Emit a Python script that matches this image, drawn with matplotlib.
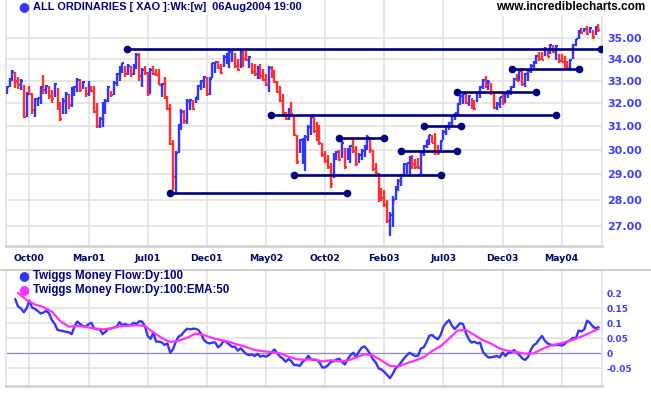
import numpy as np
import matplotlib.pyplot as plt

plt.rcParams['font.family'] = ['Liberation Sans', 'DejaVu Sans']
plt.rcParams['font.weight'] = 'bold'

# weekly bars, ALL ORDINARIES (index / 100)
high = [32.75, 33.13, 33.48, 33.40, 33.17, 33.08, 32.80, 32.50, 32.76, 32.45,
        32.24, 32.24, 32.74, 33.24, 32.80, 32.76, 32.58, 32.90, 32.65, 32.06,
        32.24, 32.50, 32.40, 32.70, 32.74, 33.13, 33.08, 33.00, 32.70, 32.97,
        32.76, 32.76, 31.98, 31.40, 32.06, 32.20, 32.74, 32.53, 32.97, 33.35,
        33.68, 33.84, 33.68, 33.76, 33.68, 33.79, 34.30, 34.30, 33.60, 33.70,
        33.38, 33.60, 33.68, 33.52, 33.52, 32.90, 33.17, 32.30, 31.96, 30.42,
        29.95, 31.10, 31.73, 31.70, 32.16, 32.16, 32.14, 32.29, 32.82, 33.05,
        33.21, 33.17, 33.17, 33.84, 33.87, 33.92, 33.76, 34.18, 34.30, 34.38,
        34.48, 34.30, 34.00, 34.48, 34.38, 34.40, 34.15, 33.84, 33.76, 33.68,
        33.76, 33.52, 33.29, 33.68, 33.68, 33.49, 32.97, 32.74, 32.41, 31.62,
        31.77, 32.06, 31.48, 30.62, 30.45, 30.49, 30.62, 31.04, 31.48, 31.38,
        31.18, 31.04, 30.28, 29.93, 29.80, 29.47, 29.87, 29.93, 30.00, 30.35,
        30.07, 30.07, 30.21, 30.49, 30.14, 29.87, 30.03, 30.20, 30.63, 30.53,
        30.00, 29.47, 29.07, 28.47, 28.40, 28.00, 27.55, 28.13, 28.53, 28.80,
        29.00, 29.47, 29.47, 29.73, 29.80, 29.64, 29.67, 29.93, 30.20, 30.42,
        30.63, 30.63, 30.70, 30.20, 30.42, 30.83, 31.04, 31.18, 31.48, 31.58,
        31.99, 32.36, 32.48, 32.48, 32.36, 32.24, 32.14, 32.51, 32.74, 33.09,
        33.20, 33.03, 32.89, 32.44, 32.03, 32.29, 32.48, 32.48, 32.59, 32.74,
        33.13, 33.29, 33.52, 33.60, 33.37, 33.52, 33.76, 33.92, 34.20, 34.35,
        34.33, 34.56, 34.38, 34.71, 34.65, 34.68, 34.26, 34.23, 34.15, 33.92,
        34.00, 34.71, 34.98, 35.40, 35.47, 35.50, 35.60, 35.55, 35.40, 35.60,
        35.68]
low = [32.40, 32.70, 32.97, 32.67, 32.62, 32.60, 31.33, 31.40, 32.35, 31.50,
       31.38, 31.87, 31.96, 32.42, 32.40, 32.16, 32.01, 32.25, 31.70, 31.23,
       31.50, 31.53, 31.73, 31.82, 32.30, 32.50, 32.50, 32.62, 32.28, 32.30,
       32.50, 31.56, 30.90, 30.90, 30.97, 31.50, 32.06, 32.28, 32.35, 32.74,
       32.97, 33.35, 33.17, 33.27, 33.17, 33.27, 33.52, 32.97, 32.70, 33.27,
       32.30, 32.40, 33.24, 33.20, 32.80, 32.29, 32.20, 31.70, 30.21, 28.40,
       28.25, 29.87, 30.83, 31.10, 31.08, 31.70, 31.68, 31.98, 32.14, 32.59,
       32.67, 32.33, 32.36, 33.13, 33.37, 33.55, 33.29, 33.65, 33.76, 33.60,
       33.87, 33.60, 33.45, 33.60, 33.65, 33.92, 33.60, 33.29, 33.21, 33.08,
       33.08, 32.97, 32.74, 32.47, 33.13, 32.90, 32.44, 32.06, 31.48, 31.26,
       31.26, 31.41, 30.56, 29.40, 29.87, 29.40, 29.13, 30.35, 30.63, 30.70,
       30.35, 30.20, 29.72, 29.47, 29.20, 28.47, 28.87, 29.60, 29.53, 29.67,
       29.20, 29.60, 29.47, 29.87, 29.33, 29.47, 29.60, 29.72, 30.00, 29.87,
       29.13, 29.00, 27.93, 27.95, 27.73, 27.10, 26.65, 26.97, 28.00, 28.33,
       28.53, 28.93, 29.00, 29.00, 29.20, 29.20, 29.20, 28.96, 29.73, 30.07,
       30.20, 30.28, 29.80, 29.80, 29.93, 30.42, 30.63, 30.83, 30.97, 31.26,
       31.48, 31.90, 31.94, 31.94, 31.88, 31.73, 31.68, 32.03, 32.21, 32.63,
       32.66, 32.59, 32.36, 31.73, 31.68, 31.76, 31.90, 31.98, 32.21, 32.36,
       32.66, 32.97, 32.97, 32.74, 32.70, 33.00, 33.37, 33.52, 33.76, 33.92,
       33.95, 34.15, 34.08, 34.23, 34.30, 33.95, 33.84, 33.85, 33.60, 33.52,
       33.52, 34.00, 34.60, 34.98, 35.21, 35.30, 35.14, 35.23, 34.98, 35.14,
       35.32]
close = [32.70, 33.05, 33.40, 33.00, 32.80, 33.00, 31.40, 32.40, 32.38, 31.70,
         32.20, 32.23, 32.70, 32.60, 32.75, 32.30, 32.20, 32.85, 31.80, 31.30,
         32.10, 32.40, 31.90, 32.60, 32.70, 33.05, 32.60, 32.95, 32.40, 32.90,
         32.55, 31.60, 31.00, 31.30, 31.90, 32.10, 32.70, 32.35, 32.90, 33.30,
         33.60, 33.80, 33.30, 33.70, 33.30, 33.70, 34.20, 33.20, 33.50, 33.35,
         32.40, 33.50, 33.30, 33.25, 32.82, 32.85, 32.25, 31.75, 30.25, 28.90,
         29.85, 31.00, 31.60, 31.20, 32.10, 32.14, 31.75, 32.25, 32.75, 33.00,
         33.15, 32.40, 33.10, 33.80, 33.85, 33.60, 33.35, 34.10, 34.25, 34.32,
         34.45, 33.70, 33.50, 34.40, 34.00, 33.95, 34.10, 33.40, 33.30, 33.60,
         33.20, 33.05, 32.80, 33.60, 33.20, 32.95, 32.50, 32.10, 31.55, 31.30,
         31.70, 31.50, 30.60, 29.50, 30.40, 30.45, 30.55, 30.95, 31.40, 30.80,
         30.50, 30.30, 29.80, 29.55, 29.30, 28.60, 29.80, 29.90, 29.60, 30.30,
         29.30, 30.00, 30.15, 29.95, 29.40, 29.80, 29.95, 30.15, 30.55, 30.00,
         29.20, 29.05, 28.10, 28.05, 27.80, 27.20, 27.40, 28.00, 28.45, 28.75,
         28.95, 29.40, 29.45, 29.65, 29.40, 29.30, 29.25, 29.85, 30.15, 30.40,
         30.60, 30.30, 29.90, 29.85, 30.35, 30.75, 31.00, 31.15, 31.45, 31.55,
         31.95, 32.30, 32.40, 32.00, 32.30, 31.80, 31.75, 32.45, 32.70, 33.05,
         32.80, 32.95, 32.50, 31.80, 31.95, 32.25, 32.00, 32.40, 32.55, 32.70,
         33.10, 33.00, 33.45, 32.85, 33.30, 33.45, 33.70, 33.88, 34.15, 34.00,
         33.97, 34.50, 34.10, 34.65, 34.35, 34.60, 33.90, 33.87, 33.70, 33.60,
         33.95, 34.65, 34.95, 35.35, 35.25, 35.45, 35.20, 35.50, 35.05, 35.55,
         35.40]

# support / resistance lines: level, first week, last week
line_level = [34.48, 28.25, 31.48, 28.97, 30.50, 29.97, 31.00, 32.48, 33.52]
line_start = [42.7, 57.9, 93.8, 101.9, 117.9, 139.8, 148.1, 159.9, 179.2]
line_end = [210.8, 120.8, 194.9, 154.1, 134.0, 159.7, 161.1, 187.7, 203.0]

# Twiggs Money Flow (100), one reading per week
nan = np.nan
money_flow = [nan, nan, nan, 0.180, 0.156, 0.150, 0.137, 0.150, 0.176, 0.152,
              0.148, 0.141, 0.133, 0.136, 0.142, 0.133, 0.111, 0.098, 0.078, 0.076,
              0.074, 0.072, 0.070, 0.064, 0.089, 0.106, 0.098, 0.091, 0.089, 0.097,
              0.102, 0.083, 0.080, 0.081, 0.064, 0.072, 0.081, 0.083, 0.086, 0.089,
              0.104, 0.094, 0.098, 0.094, 0.094, 0.102, 0.098, 0.107, 0.106, 0.091,
              0.058, 0.048, 0.069, 0.039, 0.039, 0.036, 0.028, 0.033, 0.002, 0.014,
              0.039, 0.056, 0.061, 0.073, 0.082, 0.080, 0.082, 0.082, 0.078, 0.064,
              0.044, 0.036, 0.033, 0.036, 0.036, 0.020, 0.028, 0.042, 0.037, 0.029,
              0.022, 0.022, 0.009, 0.017, 0.007, -0.002, -0.006, -0.004, -0.009, -0.002,
              -0.011, -0.008, -0.011, -0.006, 0.003, 0.013, 0.000, -0.011, -0.018, -0.028,
              -0.019, -0.026, -0.039, -0.039, -0.042, -0.028, -0.022, -0.008, -0.020, -0.022,
              -0.022, -0.030, -0.047, -0.047, -0.040, -0.028, -0.027, -0.021, -0.018, -0.028,
              -0.037, -0.020, -0.006, 0.002, -0.013, 0.006, 0.019, 0.023, 0.012, -0.003,
              -0.020, -0.031, -0.050, -0.054, -0.062, -0.072, -0.083, -0.069, -0.050, -0.042,
              -0.030, -0.017, -0.007, 0.002, -0.004, -0.009, -0.008, 0.016, 0.020, 0.037,
              0.059, 0.061, 0.053, 0.047, 0.061, 0.089, 0.102, 0.111, 0.093, 0.081,
              0.091, 0.101, 0.097, 0.067, 0.047, 0.036, 0.039, 0.033, 0.036, 0.006,
              -0.006, -0.014, -0.013, -0.011, -0.009, -0.014, 0.003, -0.009, 0.002, 0.002,
              0.011, 0.003, -0.006, -0.017, -0.022, -0.013, 0.011, 0.027, 0.033, 0.047,
              0.058, 0.042, 0.033, 0.029, 0.027, 0.028, 0.028, 0.026, 0.031, 0.039,
              0.044, 0.052, 0.050, 0.076, 0.073, 0.080, 0.109, 0.102, 0.090, 0.083,
              0.087]

# EMA(50) of the money flow, read every third week
ema_week = list(range(4, 209, 3)) + [210]
ema_value = [0.201, 0.178, 0.163, 0.154, 0.139, 0.107, 0.089, 0.091, 0.088, 0.083,
             0.080, 0.083, 0.090, 0.092, 0.094, 0.091, 0.070, 0.051, 0.038, 0.042,
             0.052, 0.066, 0.061, 0.051, 0.044, 0.038, 0.029, 0.021, 0.011, 0.007,
             0.004, 0.000, -0.011, -0.020, -0.021, -0.020, -0.027, -0.023, -0.027, -0.024,
             -0.014, -0.003, -0.007, -0.024, -0.042, -0.044, -0.033, -0.024, -0.013, 0.008,
             0.024, 0.049, 0.076, 0.078, 0.061, 0.044, 0.032, 0.016, 0.008, 0.004,
             -0.001, 0.000, 0.014, 0.026, 0.032, 0.039, 0.049, 0.060, 0.073, 0.081]

tick_week = [8, 29, 50, 71, 92, 113, 134, 155, 176, 197]
tick_label = ['Oct00', 'Mar01', 'Jul01', 'Dec01', 'May02', 'Oct02', 'Feb03',
              'Jul03', 'Dec03', 'May04']
price_ticks = [27, 28, 29, 30, 31, 32, 33, 34, 35]
mf_ticks = [-0.05, 0, 0.05, 0.1, 0.15, 0.2]
mf_tick_label = ['-0.05', '0', '0.05', '0.1', '0.15', '0.2']

BLUE = '#3434ff'
RED = '#ff3030'
NAVY = '#000080'
GRID = '#e2e2e2'
LABEL = '#3e3eff'
TICKFONT = 'DejaVu Sans'

W, H = 651, 395
fig = plt.figure(figsize=(W / 100, H / 100), dpi=100)


def box(l, t, r, b):
    return [l / W, 1 - b / H, (r - l) / W, (b - t) / H]


ax = fig.add_axes(box(6, 0, 602, 246))
ax2 = fig.add_axes(box(6, 270, 602, 386))

weeks = np.arange(len(close))
close_a = np.array(close)
up = np.r_[True, close_a[1:] >= close_a[:-1]]
cols = [BLUE if u else RED for u in up]

ax.vlines(weeks, low, high, colors=cols, lw=1.7, zorder=3)
ax.hlines(close, weeks, weeks + 0.7, colors=cols, lw=1.6, zorder=3)
for lvl, s, e in zip(line_level, line_start, line_end):
    ax.plot([s, e], [lvl, lvl], color=NAVY, lw=1.9, marker='o', ms=4.5, zorder=4)

ax.set_yscale('log')
ax.set_ylim(26.27, 36.89)
ax.set_xlim(-0.3, 211.3)
ax.yaxis.set_major_locator(plt.FixedLocator(price_ticks))
ax.yaxis.set_minor_locator(plt.NullLocator())
ax.yaxis.set_major_formatter(plt.FuncFormatter(lambda v, p: f'{v:.2f}'))
ax.set_xticks(tick_week)
ax.set_xticklabels(tick_label)
ax.yaxis.tick_right()
ax.tick_params(axis='y', length=0, pad=3.5, labelcolor=LABEL, labelsize=7.9)
ax.tick_params(axis='x', length=0, pad=6, labelcolor='#000066', labelsize=6.7)
for lbl in ax.get_xticklabels() + ax.get_yticklabels():
    lbl.set_family(TICKFONT)
ax.grid(color=GRID, lw=1.2)
ax.set_axisbelow(True)
ax.spines['top'].set_visible(False)
for s in ['left', 'right']:
    ax.spines[s].set_color(GRID)
    ax.spines[s].set_linewidth(1.2)
ax.spines['bottom'].set_color('#d4d4d4')
ax.spines['bottom'].set_linewidth(2)

# money flow panel
ax2.plot(weeks, money_flow, color=BLUE, lw=1.7, zorder=3)
ax2.plot(ema_week, ema_value, color='#ff30ff', lw=1.6, zorder=4)
ax2.axhline(0, color='#9090c8', lw=1, zorder=2)
for lvl in [-0.05, 0.05, 0.1, 0.15]:
    ax2.axhline(lvl, color=GRID, lw=1.2, zorder=1)
ax2.set_xticks(tick_week)
ax2.set_xticklabels([])
ax2.grid(axis='x', color=GRID, lw=1.2)
ax2.set_axisbelow(True)
ax2.set_xlim(-0.3, 211.3)
ax2.set_ylim(-0.109, 0.278)
ax2.set_yticks(mf_ticks)
ax2.set_yticklabels(mf_tick_label)
ax2.yaxis.tick_right()
ax2.tick_params(axis='y', length=0, pad=3.5, labelcolor=LABEL, labelsize=6.5)
ax2.tick_params(axis='x', length=0)
for lbl in ax2.get_yticklabels():
    lbl.set_family(TICKFONT)
for s in ['left', 'right', 'top']:
    ax2.spines[s].set_color(GRID)
    ax2.spines[s].set_linewidth(1.2)
ax2.spines['bottom'].set_color('#d4d4d4')
ax2.spines['bottom'].set_linewidth(2)

fig.add_artist(plt.Line2D([0, 1], [1 - 269.5 / H] * 2, color='#c8c8c8', lw=1.2))

# titles and legend
white = dict(facecolor='white', edgecolor='none', pad=2)
fig.text(24 / W, 1 - 7 / H, '\u25cf', color=BLUE, ha='center', va='center',
         fontsize=9, family='DejaVu Sans')
fig.text(33 / W, 1 - 7 / H, 'ALL ORDINARIES [ XAO ]:Wk:[w]  06Aug2004 19:00',
         color=NAVY, ha='left', va='center', fontsize=7.9, bbox=white)
fig.text(645 / W, 1 - 7.5 / H, 'www.incrediblecharts.com', color='black',
         ha='right', va='center', fontsize=8.5, bbox=white)
fig.text(24 / W, 1 - 275.5 / H, '\u25cf', color=BLUE, ha='center', va='center',
         fontsize=9, family='DejaVu Sans')
fig.text(33 / W, 1 - 275.5 / H, 'Twiggs Money Flow:Dy:100', color=NAVY,
         ha='left', va='center', fontsize=8.3)
fig.text(24 / W, 1 - 290 / H, '\u25cf', color='#ff30ff', ha='center', va='center',
         fontsize=9, family='DejaVu Sans')
fig.text(33 / W, 1 - 290 / H, 'Twiggs Money Flow:Dy:100:EMA:50', color=NAVY,
         ha='left', va='center', fontsize=8.3)

fig.savefig('out.png', dpi=100)
